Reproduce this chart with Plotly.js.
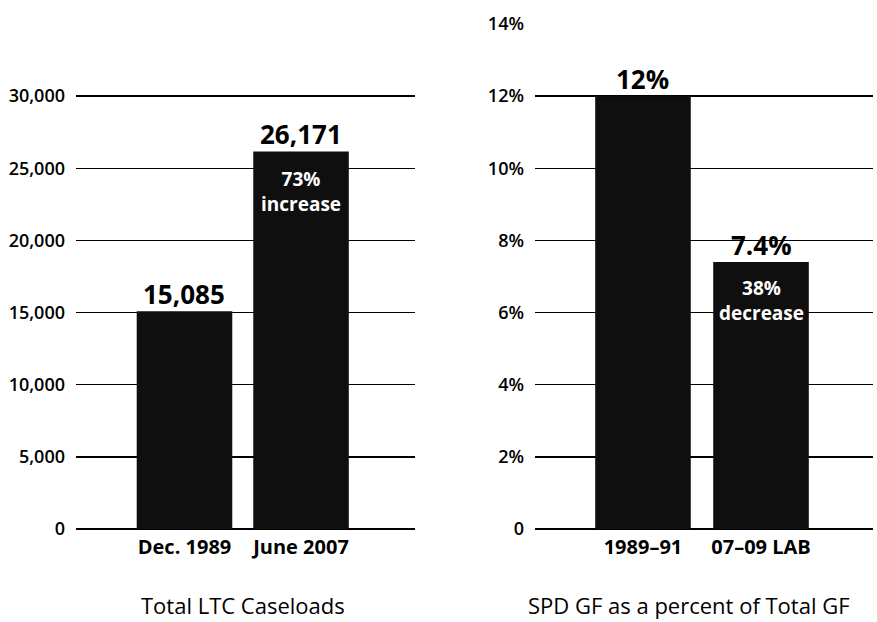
<!DOCTYPE html>
<html>
<head>
<meta charset="utf-8">
<script src="https://cdn.plot.ly/plotly-3.0.1.min.js"></script>
<style>html,body{margin:0;padding:0;background:#fff;}#chart{width:877px;height:622px;}</style>
</head>
<body>
<div id="chart"></div>
<script>
// Left panel: Total LTC Caseloads
const leftCategories = ['Dec. 1989', 'June 2007'];
const leftValues = [15085, 26171];
const leftValueLabels = ['15,085', '26,171'];
const leftNote = ['', '73%<br>increase'];
const leftTickVals = [0, 5000, 10000, 15000, 20000, 25000, 30000, 35000];
const leftTickText = ['0', '5,000', '10,000', '15,000', '20,000', '25,000', '30,000', ''];
const leftTitle = 'Total LTC Caseloads';

// Right panel: SPD GF as a percent of Total GF
const rightCategories = ['1989–91', '07–09 LAB'];
const rightValues = [12, 7.4];
const rightValueLabels = ['12%', '7.4%'];
const rightNote = ['', '38%<br>decrease'];
const rightTickVals = [0, 2, 4, 6, 8, 10, 12, 14];
const rightTickText = ['0', '2%', '4%', '6%', '8%', '10%', '12%', '14%'];
const rightTitle = 'SPD GF as a percent of Total GF';

const FONT = 'Open Sans, Noto Sans, sans-serif';
const BAR = '#0f0f0f';

const traces = [
  {type: 'bar', x: leftCategories, y: leftValues, xaxis: 'x', yaxis: 'y',
   width: 0.82, marker: {color: BAR}, hoverinfo: 'none'},
  {type: 'bar', x: rightCategories, y: rightValues, xaxis: 'x2', yaxis: 'y2',
   width: 0.81, marker: {color: BAR}, hoverinfo: 'none'}
];

const annotations = [];
leftCategories.forEach((c, i) => {
  annotations.push({xref: 'x', yref: 'y', x: c, y: leftValues[i], text: '<b>' + leftValueLabels[i] + '</b>',
    showarrow: false, yanchor: 'bottom', yshift: -3, font: {family: FONT, size: 26, color: '#000'}});
  if (leftNote[i]) annotations.push({xref: 'x', yref: 'y', x: c, y: leftValues[i], text: '<b>' + leftNote[i] + '</b>',
    showarrow: false, yanchor: 'top', yshift: -13, font: {family: FONT, size: 19, color: '#fff'}});
});
rightCategories.forEach((c, i) => {
  annotations.push({xref: 'x2', yref: 'y2', x: c, y: rightValues[i], text: '<b>' + rightValueLabels[i] + '</b>',
    showarrow: false, yanchor: 'bottom', yshift: -3, font: {family: FONT, size: 26, color: '#000'}});
  if (rightNote[i]) annotations.push({xref: 'x2', yref: 'y2', x: c, y: rightValues[i], text: '<b>' + rightNote[i] + '</b>',
    showarrow: false, yanchor: 'top', yshift: -11, font: {family: FONT, size: 19, color: '#fff'}});
});
annotations.push({xref: 'paper', yref: 'paper', x: 243 / 877, y: 0, text: leftTitle, borderpad: 0,
  showarrow: false, xanchor: 'center', yanchor: 'bottom', yshift: 1, font: {family: FONT, size: 22, color: '#000'}});
annotations.push({xref: 'paper', yref: 'paper', x: 689 / 877, y: 0, text: rightTitle, borderpad: 0,
  showarrow: false, xanchor: 'center', yanchor: 'bottom', yshift: 1, font: {family: FONT, size: 22, color: '#000'}});

const yDomain = [(622 - 529) / 622, (622 - 24) / 622];
const commonY = {
  showgrid: true, gridcolor: '#000', gridwidth: 1.5, zeroline: true, zerolinecolor: '#000', zerolinewidth: 1.5,
  showline: false, ticks: '', tickmode: 'array', ticklabelstandoff: 10, automargin: false, fixedrange: true,
  tickfont: {family: FONT, size: 18, color: '#000', weight: 600}, domain: yDomain
};
const commonX = {
  showgrid: false, zeroline: false, showline: false, ticks: '', automargin: false, fixedrange: true,
  tickfont: {family: FONT, size: 20, color: '#000', weight: 700}, ticklabelstandoff: 4
};

const layout = {
  width: 877, height: 622,
  margin: {l: 0, r: 0, t: 0, b: 0},
  paper_bgcolor: '#fff', plot_bgcolor: 'rgba(0,0,0,0)',
  showlegend: false,
  xaxis: Object.assign({}, commonX, {domain: [76 / 877, 415 / 877], range: [-0.931, 1.978], anchor: 'y'}),
  yaxis: Object.assign({}, commonY, {range: [0, 35000], tickvals: leftTickVals, ticktext: leftTickText, anchor: 'x'}),
  xaxis2: Object.assign({}, commonX, {domain: [535 / 877, 873 / 877], range: [-0.915, 1.949], anchor: 'y2'}),
  yaxis2: Object.assign({}, commonY, {range: [0, 14], tickvals: rightTickVals, ticktext: rightTickText, anchor: 'x2'}),
  annotations: annotations
};

Plotly.newPlot('chart', traces, layout, {displayModeBar: false, staticPlot: true});
</script>
</body>
</html>
